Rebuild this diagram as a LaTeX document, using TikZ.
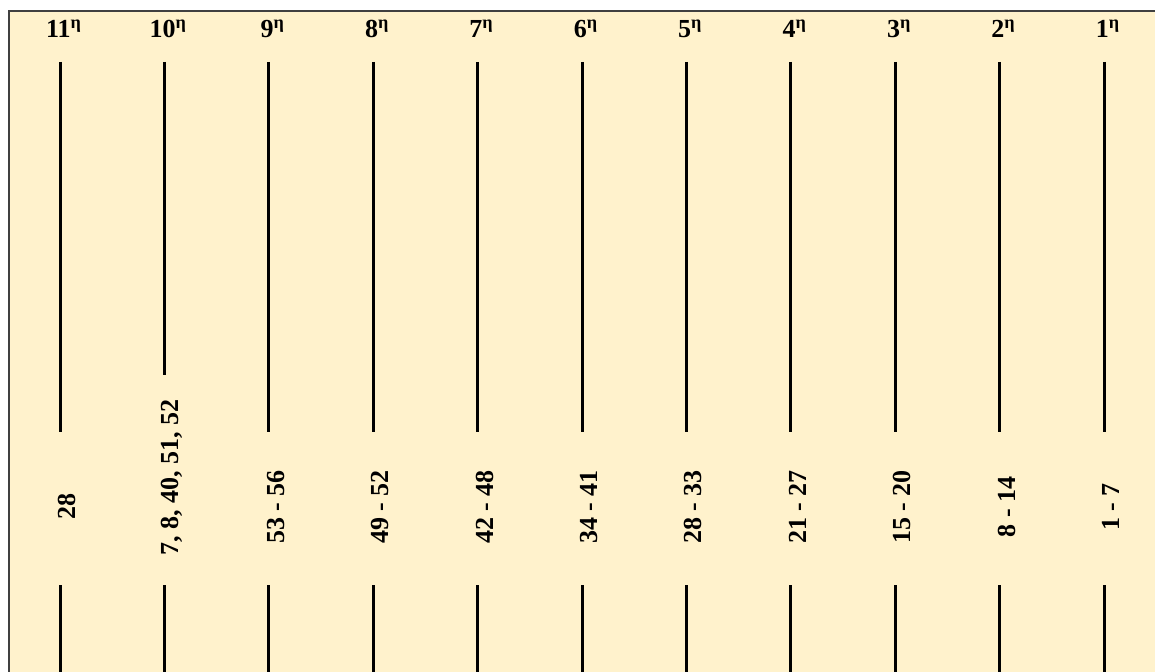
\documentclass[tikz,border=0pt]{standalone}
\usepackage{fontspec}
\setmainfont{Liberation Serif}
\definecolor{fondo}{HTML}{FFF2CC}

\begin{document}
\begin{tikzpicture}[x=0.5pt, y=-0.5pt, line width=1.5pt,
  cabecera/.style={font=\fontsize{13}{15}\selectfont\bfseries, inner sep=0pt},
  etiqueta/.style={font=\fontsize{13}{15}\selectfont\bfseries, rotate=90, inner sep=0pt}]
  \useasboundingbox (0,0) rectangle (1155,672);
  % marco
  \draw[line width=1pt, draw=black!75, fill=fondo] (9,11) rectangle (1175,690);
  % columnas
  \foreach \i/\lab/\ty/\ly in {0/28/432/507, 1/{7, 8, 40, 51, 52}/375/478,
      2/53 - 56/432/507, 3/49 - 52/432/507, 4/42 - 48/432/507,
      5/34 - 41/432/507, 6/28 - 33/432/507, 7/21 - 27/432/507,
      8/15 - 20/432/507, 9/8 - 14/432/507, 10/1 - 7/432/507}{
    \pgfmathsetmacro{\cx}{60+104.4*\i}
    \pgfmathtruncatemacro{\n}{11-\i}
    \coordinate (t\n) at (\cx,62);
    \coordinate (m\n) at (\cx,\ty);
    \coordinate (b\n) at (\cx,585);
    \coordinate (e\n) at (\cx,680);
    \node[cabecera] (h\n) at (\cx+4,29) {\n\textsuperscript{η}};
    \node[etiqueta] (l\n) at (\cx+7,\ly) {\lab};
    \draw (t\n) -- (m\n);
    \draw (b\n) -- (e\n);
  }
\end{tikzpicture}
\end{document}
